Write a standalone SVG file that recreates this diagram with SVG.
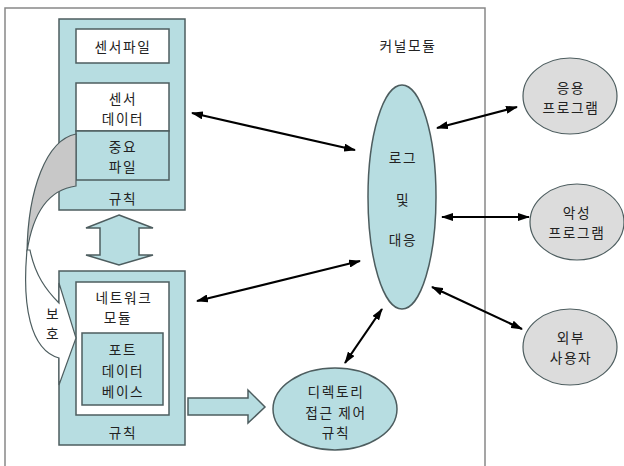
<svg xmlns="http://www.w3.org/2000/svg" width="624" height="466" viewBox="0 0 624 466">
<defs>
<style>
.t{font-family:"Noto Sans CJK KR","Noto Sans",sans-serif;font-size:13.7px;letter-spacing:1.6px;fill:#222;text-anchor:middle}
.teal{fill:#b7dde1;stroke:#4d5d5f;stroke-width:1.5}
.wbox{fill:#fff;stroke:#4d5d5f;stroke-width:1.5}
.gray{fill:#dcdcdc;stroke:#4d5d5f;stroke-width:1.2}
.con{stroke:#000;stroke-width:2.2;fill:none;marker-start:url(#ah);marker-end:url(#ah)}
</style>
<marker id="ah" viewBox="0 0 12 8" markerWidth="12" markerHeight="8" refX="11" refY="4" orient="auto-start-reverse" markerUnits="userSpaceOnUse">
<path d="M0,0 L12,4 L0,8 z" fill="#000"/>
</marker>
</defs>
<rect width="624" height="466" fill="#fff"/>
<path d="M5,470 V8 H485 V470" fill="none" stroke="#888" stroke-width="1.5"/>
<text class="t" x="408" y="51">커널모듈</text>

<g id="sensor-module">
<rect class="teal" x="59" y="19" width="126" height="191"/>
<rect class="wbox" x="76" y="29" width="93" height="34"/>
<text class="t" x="123" y="52">센서파일</text>
<rect class="wbox" x="76" y="83" width="93" height="48"/>
<text class="t" y="104"><tspan x="123">센서</tspan><tspan x="123" dy="20">데이터</tspan></text>
<rect class="teal" x="76" y="131" width="93" height="49"/>
<text class="t" y="152"><tspan x="123">중요</tspan><tspan x="123" dy="20">파일</tspan></text>
<text class="t" x="123" y="204">규칙</text>
</g>

<g id="protect-arrow-back">
<path d="M76,134 C46,140 28,190 27,252 C32,218 46,190 76,186 Z" fill="#c8c8c8" stroke="#4d5d5f" stroke-width="1.2"/>
</g>

<g id="network-module">
<rect class="teal" x="59" y="271" width="126" height="174"/>
<rect class="wbox" x="76" y="282" width="93" height="133"/>
<text class="t" y="303"><tspan x="124">네트워크</tspan><tspan x="118" dy="20">모듈</tspan></text>
<rect class="teal" x="82" y="333" width="81" height="72"/>
<text class="t" y="355"><tspan x="123">포트</tspan><tspan x="123" dy="21">데이터</tspan><tspan x="123" dy="21">베이스</tspan></text>
<text class="t" x="123" y="438">규칙</text>
</g>

<g id="protect-arrow">
<path d="M27,250 C22,305 30,350 59,358 L59,385 L76,338 L59,283 L59,303 C46,290 35,275 30,250 Z" fill="#fff" stroke="#4d5d5f" stroke-width="1.2"/>
<text class="t" y="319"><tspan x="53">보</tspan><tspan x="53" dy="20">호</tspan></text>
</g>

<g id="updown-arrow">
<path class="teal" d="M119,215 L153,228 L139,228 L139,255 L153,255 L119,265 L86,255 L100,255 L100,228 L86,228 Z"/>
</g>

<g id="right-arrow">
<path class="teal" d="M188,398 L248,398 L248,390 L265,407 L248,423 L248,415 L188,415 Z"/>
</g>

<g id="log-response">
<ellipse class="teal" cx="402" cy="197" rx="34" ry="112"/>
<text class="t" y="163"><tspan x="403">로그</tspan><tspan x="403" dy="42">및</tspan><tspan x="403" dy="40">대응</tspan></text>
</g>

<g id="dir-access">
<ellipse class="teal" cx="335" cy="409" rx="62" ry="41"/>
<text class="t" y="397"><tspan x="336">디렉토리</tspan><tspan x="336" dy="21">접근 제어</tspan><tspan x="336" dy="20">규칙</tspan></text>
</g>

<g id="app">
<ellipse class="gray" cx="570" cy="96" rx="47" ry="38"/>
<text class="t" y="93"><tspan x="571">응용</tspan><tspan x="571" dy="20">프로그램</tspan></text>
</g>

<g id="malware">
<ellipse class="gray" cx="577" cy="222" rx="47" ry="38"/>
<text class="t" y="218"><tspan x="577">악성</tspan><tspan x="577" dy="20">프로그램</tspan></text>
</g>

<g id="external">
<ellipse class="gray" cx="570" cy="347" rx="47" ry="38"/>
<text class="t" y="343"><tspan x="571">외부</tspan><tspan x="571" dy="20">사용자</tspan></text>
</g>

<g id="connectors">
<line class="con" x1="192" y1="113" x2="355" y2="150"/>
<line class="con" x1="197" y1="301" x2="360" y2="261"/>
<line class="con" x1="437" y1="128" x2="517" y2="107"/>
<line class="con" x1="442" y1="217" x2="529" y2="217"/>
<line class="con" x1="432" y1="287" x2="522" y2="329"/>
<line class="con" x1="382" y1="309" x2="345" y2="363"/>
</g>
</svg>
